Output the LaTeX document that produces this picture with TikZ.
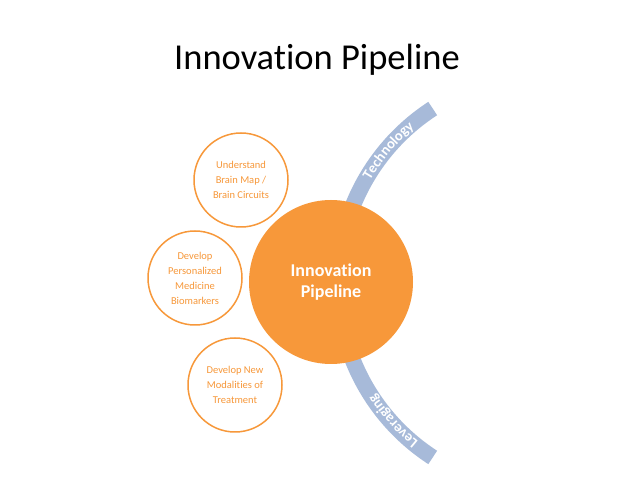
\documentclass[tikz,border=0pt]{standalone}
\usepackage{fontspec}
\setmainfont{Carlito}[Ligatures=NoCommon]
\usetikzlibrary{decorations.text}
\definecolor{orng}{RGB}{247,152,58}
\definecolor{bandblue}{RGB}{167,186,217}
\begin{document}
\begin{tikzpicture}[x=1pt,y=1pt,
 smallc/.style={circle, draw=orng, line width=1.5pt, fill=white, minimum size=94pt, inner sep=0pt, align=center, text=orng, font=\fontsize{10.5}{15}\selectfont},
 bigc/.style={circle, fill=orng, minimum size=164pt, inner sep=0pt, align=center, text=white, font=\bfseries\fontsize{18}{21.5}\selectfont},
 bandtext/.style={decorate, decoration={text along path, text align=center, text color=white, text={|\bfseries\fontsize{14.5}{16}\selectfont|#1}}}]
\fill[white] (0,0) rectangle (638,479);
\useasboundingbox (0,0) rectangle (638,479);
\node[font=\fontsize{36.5}{40}\selectfont, anchor=base, inner sep=0pt] (title) at (317,409) {Innovation Pipeline};
\coordinate (ac) at (546,196);
\draw[bandblue, line width=16pt] (ac) ++(123:208) arc[start angle=123, end angle=237, radius=208];
\path[bandtext=Technology] (ac) ++(165:203.5) arc[start angle=165, end angle=115, radius=203.5];
\path[bandtext=Leveraging] (ac) ++(247:203.5) arc[start angle=247, end angle=197, radius=203.5];
\node[bigc] (core) at (331,197) {Innovation\\Pipeline};
\node[smallc] (brain) at (241,299) {Understand\\Brain Map /\\Brain Circuits};
\node[smallc] (bio) at (195,201) {Develop\\Personalized\\Medicine\\Biomarkers};
\node[smallc] (treat) at (235,94) {Develop New\\Modalities of\\Treatment};
\end{tikzpicture}
\end{document}
